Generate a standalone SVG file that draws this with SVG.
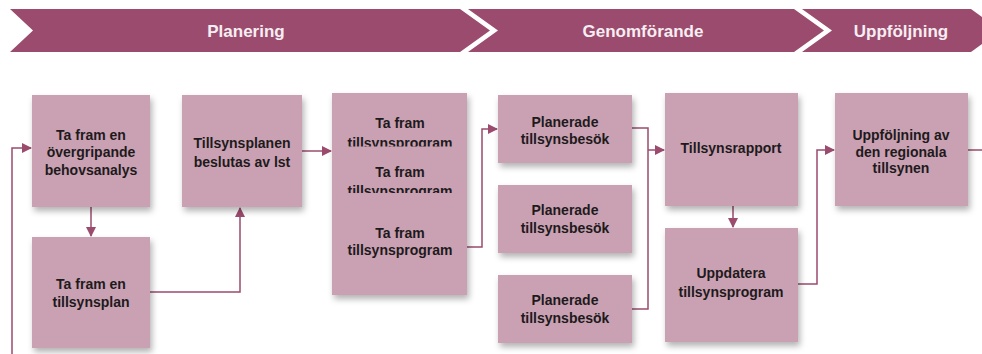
<svg xmlns="http://www.w3.org/2000/svg" width="982" height="354" viewBox="0 0 982 354">
<style>
.banner{fill:#9b4b6d}
.btxt{font-family:"Liberation Sans",Arial,sans-serif;font-weight:bold;font-size:17px;fill:#f6eef2;text-anchor:middle}
.box{fill:#c9a1b2;filter:url(#sh)}
.t{font-family:"Liberation Sans",Arial,sans-serif;font-weight:bold;font-size:14px;fill:#1e1a1c;text-anchor:middle}
.c{fill:none;stroke:#9b4b6d;stroke-width:1.5}
</style>
<defs>
<filter id="sh" x="-20%" y="-20%" width="140%" height="150%">
<feDropShadow dx="2" dy="4" stdDeviation="3" flood-color="#000" flood-opacity="0.3"/>
</filter>
<marker id="ah" viewBox="0 0 10 10" refX="9" refY="5" markerWidth="10" markerHeight="10" markerUnits="userSpaceOnUse" orient="auto">
<path d="M0,0 L10,5 L0,10 z" fill="#9b4b6d"/>
</marker>
</defs>
<g id="banners">
<polygon class="banner" points="10,9 460,9 490,30.5 460,52 10,52 33,30.5"/>
<text class="btxt" x="246" y="36.5" font-size="16.5">Planering</text>
<polygon class="banner" points="468,9 794,9 824,30.5 794,52 468,52 498,30.5"/>
<text class="btxt" x="643" y="36.5">Genomförande</text>
<polygon class="banner" points="802,9 971,9 1001,30.5 971,52 802,52 832,30.5"/>
<text class="btxt" x="901" y="36.5">Uppföljning</text>
</g>
<g id="connectors">
<path class="c" d="M12,354 V148 H31" marker-end="url(#ah)"/>
<path class="c" d="M91,207 V236" marker-end="url(#ah)"/>
<path class="c" d="M150,292 H240 V208" marker-end="url(#ah)"/>
<path class="c" d="M302,151 H331" marker-end="url(#ah)"/>
<path class="c" d="M467,247 H482 V129 H497" marker-end="url(#ah)"/>
<path class="c" d="M632,128 H648 V309 H632"/>
<path class="c" d="M648,150 H664" marker-end="url(#ah)"/>
<path class="c" d="M733,206 V227" marker-end="url(#ah)"/>
<path class="c" d="M798,284 H817 V150 H834" marker-end="url(#ah)"/>
<path class="c" d="M968,150 H982"/>
</g>
<g id="n1">
<rect class="box" x="32" y="95" width="118" height="112"/>
<text class="t" x="91" y="140">Ta fram en</text>
<text class="t" x="91" y="157">övergripande</text>
<text class="t" x="91" y="175">behovsanalys</text>
</g>
<g id="n2">
<rect class="box" x="32" y="237" width="118" height="111"/>
<text class="t" x="91" y="289">Ta fram en</text>
<text class="t" x="91" y="307">tillsynsplan</text>
</g>
<g id="n3">
<rect class="box" x="182" y="95" width="120" height="112"/>
<text class="t" x="242" y="148">Tillsynsplanen</text>
<text class="t" x="242" y="167">beslutas av lst</text>
</g>
<g id="n4a">
<rect class="box" x="332" y="93" width="135" height="202"/>
<text class="t" x="400" y="128">Ta fram</text>
<text class="t" x="400" y="148">tillsynsprogram</text>
</g>
<g id="n4b">
<rect x="332" y="146.5" width="135" height="148.5" fill="#c9a1b2"/>
<text class="t" x="400" y="177">Ta fram</text>
<text class="t" x="400" y="196">tillsynsprogram</text>
</g>
<g id="n4c">
<rect x="332" y="193" width="135" height="102" fill="#c9a1b2"/>
<text class="t" x="400" y="238">Ta fram</text>
<text class="t" x="400" y="255">tillsynsprogram</text>
</g>
<g id="n5a">
<rect class="box" x="498" y="95" width="134" height="68"/>
<text class="t" x="565" y="127">Planerade</text>
<text class="t" x="565" y="144">tillsynsbesök</text>
</g>
<g id="n5b">
<rect class="box" x="498" y="185" width="134" height="68"/>
<text class="t" x="565" y="215">Planerade</text>
<text class="t" x="565" y="233">tillsynsbesök</text>
</g>
<g id="n5c">
<rect class="box" x="498" y="275" width="134" height="68"/>
<text class="t" x="565" y="305">Planerade</text>
<text class="t" x="565" y="323">tillsynsbesök</text>
</g>
<g id="n6">
<rect class="box" x="665" y="93" width="133" height="113"/>
<text class="t" x="731" y="153">Tillsynsrapport</text>
</g>
<g id="n7">
<rect class="box" x="665" y="228" width="133" height="114"/>
<text class="t" x="731" y="278">Uppdatera</text>
<text class="t" x="731" y="297">tillsynsprogram</text>
</g>
<g id="n8">
<rect class="box" x="835" y="93" width="133" height="113"/>
<text class="t" x="901" y="140">Uppföljning av</text>
<text class="t" x="901" y="157">den regionala</text>
<text class="t" x="901" y="173">tillsynen</text>
</g>
</svg>
